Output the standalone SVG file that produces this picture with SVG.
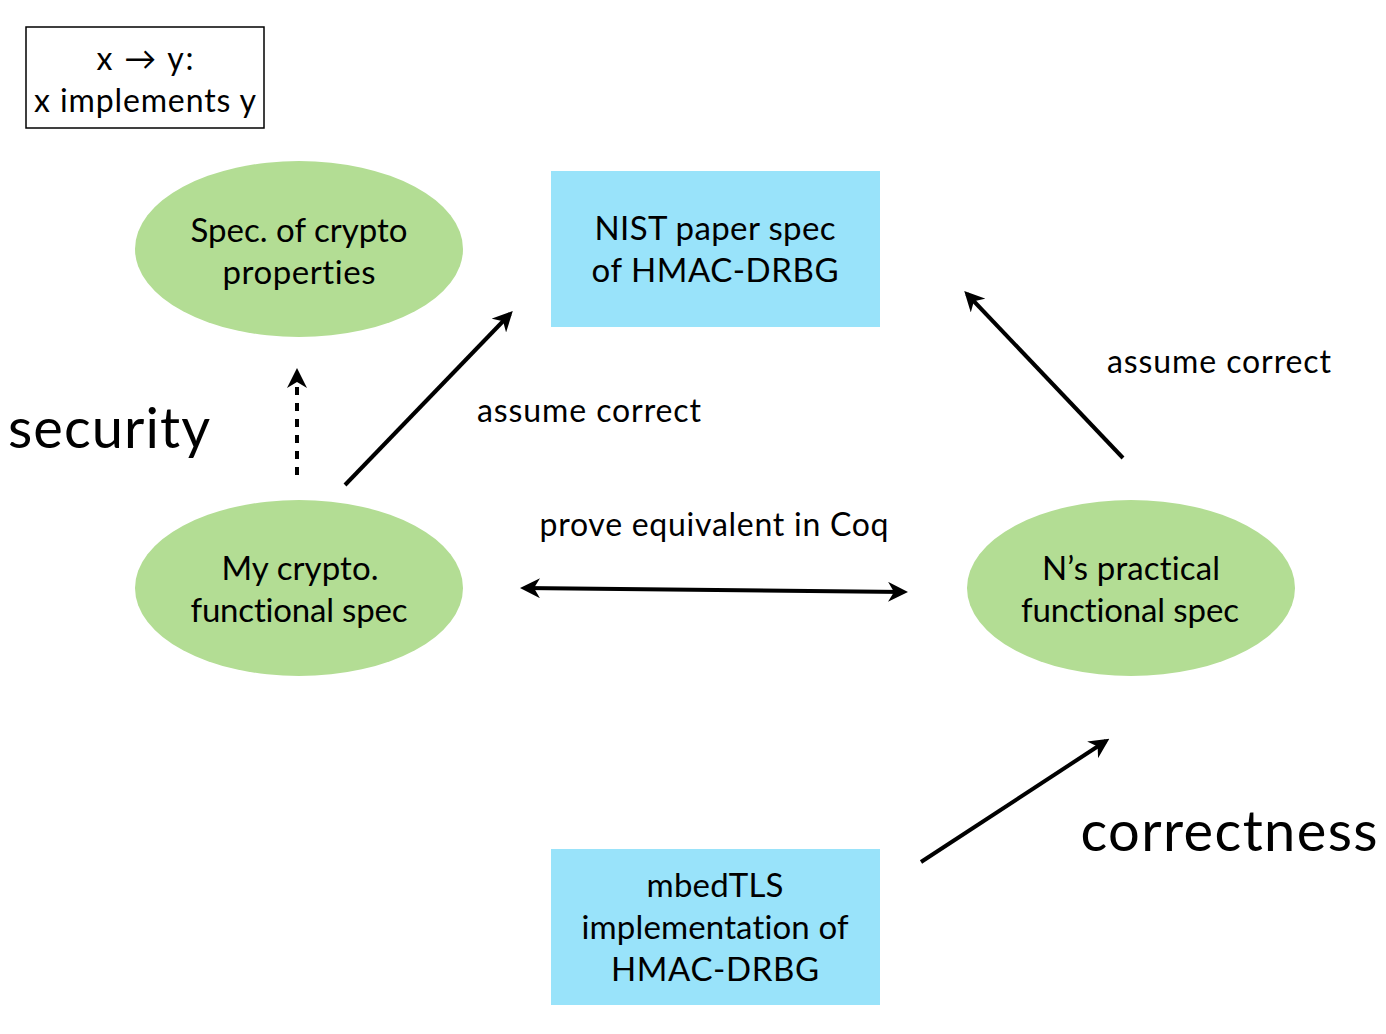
<svg xmlns="http://www.w3.org/2000/svg" width="1386" height="1034" viewBox="0 0 1386 1034">
<style>
text{font-family:Lato,"Open Sans","Liberation Sans",sans-serif;fill:#000;text-anchor:middle;font-variant-ligatures:none}
.n{font-size:33px}
.l{font-size:32px}
.big{font-size:56px}
.ell{fill:#b3dd94}
.box{fill:#99e3fa}
.c{stroke:#000;stroke-width:4;fill:none}
</style>
<defs>
<marker id="ah" viewBox="0 0 10 10" refX="8" refY="5" markerWidth="5" markerHeight="5" orient="auto-start-reverse" markerUnits="strokeWidth">
<path d="M0,0 L10,5 L0,10 L3,5 z" fill="#000"/>
</marker>
</defs>
<g id="legend">
<rect x="26" y="27" width="238" height="101" fill="#fff" stroke="#000" stroke-width="1.5"/>
<text class="l" x="145" y="70" textLength="97" lengthAdjust="spacing">x → y:</text>
<text class="l" x="145" y="112" textLength="222" lengthAdjust="spacing">x implements y</text>
</g>
<g id="crypto-props">
<ellipse class="ell" cx="299" cy="249" rx="164" ry="88"/>
<text class="n" x="299" y="242" textLength="217" lengthAdjust="spacing">Spec. of crypto</text>
<text class="n" x="299" y="284" textLength="153" lengthAdjust="spacing">properties</text>
</g>
<g id="nist">
<rect class="box" x="551" y="171" width="329" height="156"/>
<text class="n" x="715" y="240" textLength="241" lengthAdjust="spacing">NIST paper spec</text>
<text class="n" x="715" y="282" textLength="247" lengthAdjust="spacing">of HMAC-DRBG</text>
</g>
<g id="my-spec">
<ellipse class="ell" cx="299" cy="588" rx="164" ry="88"/>
<text class="n" x="300" y="580" textLength="157" lengthAdjust="spacing">My crypto.</text>
<text class="n" x="299" y="622" textLength="217" lengthAdjust="spacing">functional spec</text>
</g>
<g id="n-spec">
<ellipse class="ell" cx="1131" cy="588" rx="164" ry="88"/>
<text class="n" x="1131" y="580" textLength="178" lengthAdjust="spacing">N’s practical</text>
<text class="n" x="1130" y="622" textLength="218" lengthAdjust="spacing">functional spec</text>
</g>
<g id="mbedtls">
<rect class="box" x="551" y="849" width="329" height="156"/>
<text class="n" x="715" y="897" textLength="137" lengthAdjust="spacing">mbedTLS</text>
<text class="n" x="715" y="939" textLength="267" lengthAdjust="spacing">implementation of</text>
<text class="n" x="715" y="981" textLength="208" lengthAdjust="spacing">HMAC-DRBG</text>
</g>
<g id="connectors">
<line class="c" x1="297" y1="475" x2="297" y2="372" stroke-dasharray="8,8" marker-end="url(#ah)"/>
<line class="c" x1="345" y1="485" x2="510" y2="314" marker-end="url(#ah)"/>
<line class="c" x1="1123" y1="458" x2="967" y2="294" marker-end="url(#ah)"/>
<line class="c" x1="524" y1="588" x2="904" y2="592" marker-start="url(#ah)" marker-end="url(#ah)"/>
<line class="c" x1="921" y1="862" x2="1106" y2="741" marker-end="url(#ah)"/>
</g>
<g id="labels">
<text class="l" x="589" y="422" textLength="224" lengthAdjust="spacing">assume correct</text>
<text class="l" x="1219" y="373" textLength="224" lengthAdjust="spacing">assume correct</text>
<text class="l" x="714" y="536" textLength="349" lengthAdjust="spacing">prove equivalent in Coq</text>
<text class="big" x="109" y="448" textLength="202" lengthAdjust="spacing">security</text>
<text class="big" x="1229" y="851" textLength="297" lengthAdjust="spacing">correctness</text>
</g>
</svg>
